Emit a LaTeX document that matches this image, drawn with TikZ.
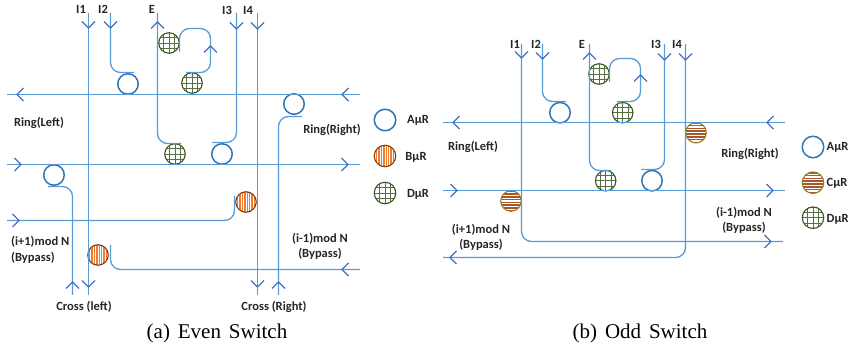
\documentclass[tikz,border=0pt]{standalone}
\usepackage{fontspec}
\setmainfont{Carlito}
\newfontfamily\capfont[WordSpace=1.5]{Liberation Serif}
\definecolor{wirec}{HTML}{5B9BD5}
\definecolor{chevc}{HTML}{4472C4}
\definecolor{ringa}{HTML}{2E75B6}
\definecolor{bedge}{HTML}{843C0C}
\definecolor{bfill}{HTML}{ED7D31}
\definecolor{cedge}{HTML}{9C7A1E}
\definecolor{cfill}{HTML}{A5562B}
\definecolor{dedge}{HTML}{385723}
\tikzset{
  x=1pt,y=-1pt,
  wire/.style={draw=wirec,line width=1.3pt,rounded corners=10pt},
  chevline/.style={draw=chevc,line width=1.1pt},
  chevd/.pic={\draw[chevline] (-6.5,-6.5)--(0,0)--(6.5,-6.5);},
  chevu/.pic={\draw[chevline] (-6.5,6.5)--(0,0)--(6.5,6.5);},
  chevl/.pic={\draw[chevline] (6.5,-6.5)--(0,0)--(6.5,6.5);},
  chevr/.pic={\draw[chevline] (-6.5,-6.5)--(0,0)--(-6.5,6.5);},
  mr/.style={circle,inner sep=0pt,minimum size=20.5pt,line width=1.1pt},
  ringA/.style={mr,draw=ringa,line width=1.5pt},
  ringB/.style={mr,draw=bedge,fill=bfill,path picture={
    \foreach \k in {-9.6,-7.2,...,10}{\draw[white,line width=.8pt] ([xshift=\k pt]path picture bounding box.north) -- ([xshift=\k pt]path picture bounding box.south);}}},
  ringC/.style={mr,draw=cedge,fill=cfill,path picture={
    \foreach \k in {-8.4,-5.6,...,9}{\draw[white,line width=1.2pt] ([yshift=\k pt]path picture bounding box.west) -- ([yshift=\k pt]path picture bounding box.east);}}},
  ringD/.style={mr,draw=dedge,fill=white,path picture={
    \foreach \k in {-10.5,-5.25,0,5.25,10.5}{
      \draw[dedge!85,line width=.6pt] ([xshift=\k pt]path picture bounding box.north) -- ([xshift=\k pt]path picture bounding box.south);
      \draw[dedge!85,line width=.6pt] ([yshift=\k pt]path picture bounding box.west) -- ([yshift=\k pt]path picture bounding box.east);}}},
  lbl/.style={inner sep=0pt,font=\fontsize{12.5}{14}\selectfont\bfseries,text=black!85},
  capt/.style={inner sep=0pt,font=\capfont\fontsize{21}{24}\selectfont,text=black},
}
\begin{document}
\begin{tikzpicture}
\useasboundingbox (0,0) rectangle (848,352);
\clip (0,0) rectangle (848,352);

% ---- rings, left panel
\node[ringA] (a1) at (128,84) {};
\node[ringD] (d1) at (169,43) {};
\node[ringD] (d2) at (192,83) {};
\node[ringD] (d3) at (175,154) {};
\node[ringA] (a2) at (222,154) {};
\node[ringA] (a3) at (294,104) {};
\node[ringA] (a4) at (54,175) {};
\node[ringB] (b1) at (246,202) {};
\node[ringB] (b2) at (98,255) {};

% ---- named ends, left panel
\coordinate (LtI1) at (88.5,13);   \coordinate (LbI1) at (88.5,295);
\coordinate (LtI2) at (110.5,13);  \coordinate (LeI2) at (134,72.5);
\coordinate (LtE) at (157.5,13); \coordinate (LeE) at (181,143.5);
\coordinate (LtI3) at (236.5,13);  \coordinate (LeI3) at (212,142.5);
\coordinate (LtI4) at (257.5,13);\coordinate (LbI4) at (257.5,295);
\coordinate (Lh1a) at (7,94.5);    \coordinate (Lh1b) at (360,94.5);
\coordinate (Lh2a) at (7,164.5); \coordinate (Lh2b) at (360,164.5);
\coordinate (Lh3a) at (7,220.5);   \coordinate (Lh3b) at (234.5,196);
\coordinate (Lh4a) at (110.5,245); \coordinate (Lh4b) at (360,269.5);
\coordinate (La3s) at (302,116.5); \coordinate (La3e) at (278.5,295);
\coordinate (La4s) at (48,186.5);  \coordinate (La4e) at (72.5,295);
\coordinate (Lp1) at (179.5,52); \coordinate (Lp2) at (210.5,28.5); \coordinate (Lp3) at (186,72.5);

\draw[wire] (Lh1a) -- (Lh1b);
\draw[wire] (Lh2a) -- (Lh2b);
\draw[wire] (LtI1) -- (LbI1);
\draw[wire] (LtI4) -- (LbI4);
\draw[wire] (LtI2) |- (LeI2);
\draw[wire] (LtE) |- (LeE);
\draw[wire] (LtI3) |- (LeI3);
\draw[wire] (Lh3a) -| (Lh3b);
\draw[wire] (Lh4a) |- (Lh4b);
\draw[wire] (La3s) -| (La3e);
\draw[wire] (La4s) -| (La4e);
\draw[wire] (Lp1) |- (Lp2) |- (Lp3);

\pic at (88.5,28) {chevd};
\pic at (110.5,28) {chevd};
\pic at (157.5,22) {chevu};
\pic at (210.5,46) {chevu};
\pic at (236.5,29) {chevd};
\pic at (257.5,29) {chevd};
\pic at (17,94.5) {chevl};
\pic at (342,94.5) {chevl};
\pic at (21,164.5) {chevr};
\pic at (348,164.5) {chevr};
\pic at (19,220.5) {chevr};
\pic at (342,269.5) {chevl};
\pic at (72.5,282) {chevu};
\pic at (88.5,287) {chevd};
\pic at (257.5,287) {chevd};
\pic at (278.5,282) {chevu};

\node[lbl] (tl1) at (81,9) {I1};
\node[lbl] (tl2) at (103,9) {I2};
\node[lbl] (tl3) at (152,9) {E};
\node[lbl] (tl4) at (227,10.5) {I3};
\node[lbl] (tl5) at (248,10.5) {I4};
\node[lbl] (tl6) at (39,123) {Ring(Left)};
\node[lbl] (tl7) at (332,130) {Ring(Right)};
\node[lbl,anchor=west] (tl8) at (11,242) {(i+1)mod N};
\node[lbl,anchor=west] (tl9) at (11,257.5) {(Bypass)};
\node[lbl] (tl10) at (320,239) {(i-1)mod N};
\node[lbl] (tl11) at (320,254) {(Bypass)};
\node[lbl] (tl12) at (84,307) {Cross (left)};
\node[lbl] (tl13) at (274,307) {Cross (Right)};
\node[capt] (cap1) at (217,333) {(a) Even Switch};

% ---- legend left
\node[ringA,minimum size=21.5pt] (la) at (385,120) {};
\node[ringB,minimum size=21.5pt] (lb) at (385,156) {};
\node[ringD,minimum size=21.5pt] (ld) at (385,193) {};
\node[lbl] (lat) at (418,120) {AµR};
\node[lbl] (lbt) at (416,157) {BµR};
\node[lbl] (ldt) at (418,194) {DµR};

% ---- rings, right panel
\node[ringA] (ra1) at (560,112.7) {};
\node[ringD] (rd1) at (599,74) {};
\node[ringD] (rd2) at (622.7,112.7) {};
\node[ringD] (rd3) at (605.7,180.7) {};
\node[ringA] (ra2) at (652,180.7) {};
\node[ringC] (rc1) at (696,132.7) {};
\node[ringC] (rc2) at (511,201) {};

% ---- named ends, right panel
\coordinate (RtI1) at (521.5,44); \coordinate (ReI1) at (783,241.5);
\coordinate (RtI2) at (542.5,44); \coordinate (ReI2) at (566,101.5);
\coordinate (RtE) at (589.5,44);    \coordinate (ReE) at (611,170.5);
\coordinate (RtI3) at (664.5,44);   \coordinate (ReI3) at (641,169.5);
\coordinate (RtI4) at (685.5,44); \coordinate (ReI4) at (443,257.5);
\coordinate (Rh1a) at (443,122.5);\coordinate (Rh1b) at (785,122.5);
\coordinate (Rh2a) at (443,190.5);\coordinate (Rh2b) at (785,190.5);
\coordinate (Rp1) at (609.5,82); \coordinate (Rp2) at (640.5,58.5); \coordinate (Rp3) at (617,101.5);

\draw[wire] (Rh1a) -- (Rh1b);
\draw[wire] (Rh2a) -- (Rh2b);
\draw[wire] (RtI1) |- (ReI1);
\draw[wire] (RtI4) |- (ReI4);
\draw[wire] (RtI2) |- (ReI2);
\draw[wire] (RtE) |- (ReE);
\draw[wire] (RtI3) |- (ReI3);
\draw[wire] (Rp1) |- (Rp2) |- (Rp3);

\pic at (521.5,58) {chevd};
\pic at (542.5,59) {chevd};
\pic at (589.5,53) {chevu};
\pic at (640.5,75) {chevu};
\pic at (664.5,60) {chevd};
\pic at (685.5,60) {chevd};
\pic at (453,122.5) {chevl};
\pic at (767,122.5) {chevl};
\pic at (457,190.5) {chevr};
\pic at (773,190.5) {chevr};
\pic at (771,241.5) {chevr};
\pic at (450,257.5) {chevl};

\node[lbl] (rl1) at (515,44) {I1};
\node[lbl] (rl2) at (536,44) {I2};
\node[lbl] (rl3) at (582,44) {E};
\node[lbl] (rl4) at (656,44) {I3};
\node[lbl] (rl5) at (677,44) {I4};
\node[lbl] (rl6) at (473,147) {Ring(Left)};
\node[lbl] (rl7) at (750,154) {Ring(Right)};
\node[lbl] (rl8) at (481,230) {(i+1)mod N};
\node[lbl] (rl9) at (481,245) {(Bypass)};
\node[lbl] (rl10) at (744,213) {(i-1)mod N};
\node[lbl] (rl11) at (744,228) {(Bypass)};
\node[capt] (cap2) at (640,333) {(b) Odd Switch};

% ---- legend right
\node[ringA,minimum size=21.5pt] (rla) at (813,147) {};
\node[ringC,minimum size=21.5pt] (rlc) at (813,182.7) {};
\node[ringD,minimum size=21.5pt] (rld) at (813,217.7) {};
\node[lbl,anchor=west] (rlat) at (826.5,147) {AµR};
\node[lbl,anchor=west] (rlct) at (826.5,183) {CµR};
\node[lbl,anchor=west] (rldt) at (826.5,219) {DµR};
\end{tikzpicture}
\end{document}
